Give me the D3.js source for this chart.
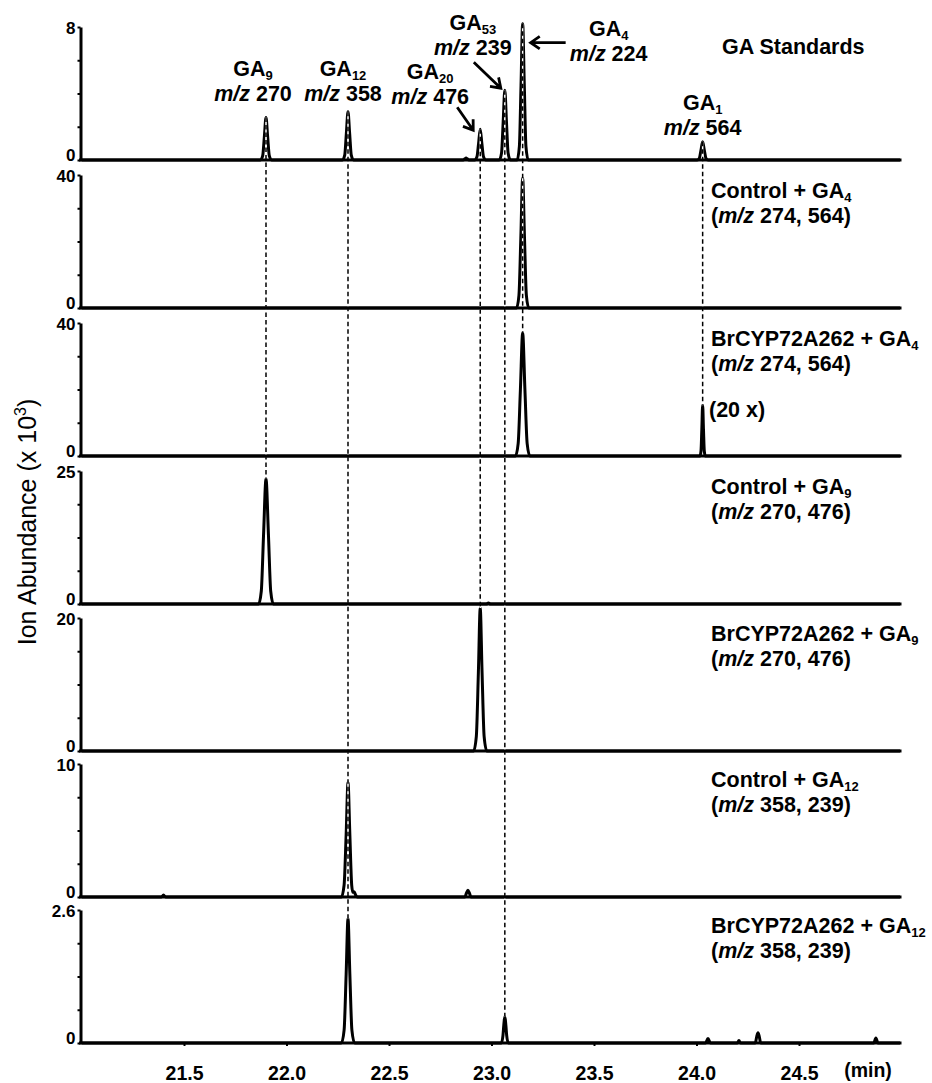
<!DOCTYPE html>
<html>
<head>
<meta charset="utf-8">
<script src="https://cdn.jsdelivr.net/npm/d3@7"></script>
<style>
  html, body { margin: 0; padding: 0; background: #fff; }
  svg { display: block; font-family: Arial, "Liberation Sans", Helvetica, sans-serif; }
</style>
</head>
<body>
<svg id="chart" width="932" height="1083"></svg>
<script>
// ---------------------------------------------------------------
// Data
// ---------------------------------------------------------------

// retention-time tick labels (min)
const timeTicks = [21.5, 22.0, 22.5, 23.0, 23.5, 24.0, 24.5];

// chromatograms: [retention time (min), ion abundance (x 10^3)]
const gaStandards = [
  [21.0, 0],
  [21.873, 0], [21.884, 0.26], [21.892, 1.4], [21.900, 2.55], [21.908, 1.4], [21.916, 0.26], [21.927, 0],
  [22.273, 0], [22.284, 0.29], [22.292, 1.6], [22.300, 2.9], [22.308, 1.6], [22.316, 0.29], [22.327, 0],
  [22.862, 0], [22.870, 0.07], [22.876, 0.12], [22.882, 0.07], [22.890, 0],
  [22.918, 0], [22.929, 0.19], [22.937, 1.0], [22.945, 1.85], [22.953, 1.0], [22.961, 0.19], [22.972, 0],
  [23.038, 0], [23.049, 0.42], [23.057, 2.3], [23.065, 4.2], [23.073, 2.3], [23.081, 0.42], [23.092, 0],
  [23.125, 0], [23.136, 0.82], [23.144, 4.5], [23.152, 8.2], [23.160, 4.5], [23.168, 0.82], [23.179, 0],
  [24.003, 0], [24.014, 0.11], [24.022, 0.6], [24.030, 1.1], [24.038, 0.6], [24.046, 0.11], [24.057, 0],
  [25.0, 0]
];

const controlGA4 = [
  [21.0, 0],
  [23.122, 0], [23.134, 3.9], [23.143, 21], [23.152, 39], [23.161, 21], [23.170, 3.9], [23.182, 0],
  [25.0, 0]
];

const brcypGA4 = [
  [21.0, 0],
  [23.117, 0], [23.130, 3.7], [23.141, 20], [23.152, 37], [23.163, 20], [23.174, 3.7], [23.187, 0],
  [24.017, 0], [24.022, 1.5], [24.026, 8], [24.030, 15.3], [24.034, 8], [24.038, 1.5], [24.043, 0],
  [25.0, 0]
];

const controlGA9 = [
  [21.0, 0],
  [21.864, 0], [21.877, 2.4], [21.888, 12.9], [21.900, 23.5], [21.912, 12.9], [21.923, 2.4], [21.936, 0],
  [22.975, 0], [22.985, 0.2], [22.995, 0],
  [25.0, 0]
];

const brcypGA9 = [
  [21.0, 0],
  [22.913, 0], [22.926, 2.2], [22.936, 11.8], [22.945, 21.5], [22.954, 11.8], [22.964, 2.2], [22.977, 0],
  [25.0, 0]
];

const controlGA12 = [
  [21.0, 0],
  [21.390, 0], [21.400, 0.15], [21.410, 0],
  [22.268, 0], [22.281, 0.9], [22.291, 4.7], [22.300, 8.6], [22.309, 4.7], [22.318, 0.9],
  [22.324, 0.35], [22.330, 0.4], [22.337, 0.15], [22.345, 0],
  [22.870, 0], [22.878, 0.3], [22.885, 0.5], [22.892, 0.3], [22.900, 0],
  [25.0, 0]
];

const brcypGA12 = [
  [21.0, 0],
  [22.268, 0], [22.281, 0.25], [22.291, 1.35], [22.300, 2.43], [22.309, 1.35], [22.319, 0.25], [22.332, 0],
  [23.048, 0], [23.056, 0.15], [23.060, 0.35], [23.065, 0.52], [23.070, 0.35], [23.074, 0.15], [23.082, 0],
  [24.044, 0], [24.056, 0.09], [24.068, 0],
  [24.199, 0], [24.207, 0.05], [24.215, 0],
  [24.287, 0], [24.294, 0.13], [24.300, 0.2], [24.306, 0.13], [24.313, 0],
  [24.865, 0], [24.875, 0.1], [24.885, 0],
  [25.0, 0]
];

// panels, top to bottom
const panelSeries = [gaStandards, controlGA4, brcypGA4, controlGA9, brcypGA9, controlGA12, brcypGA12];
const panelMax = [8, 40, 40, 25, 20, 10, 2.6];
const panelMaxLabels = ["8", "40", "40", "25", "20", "10", "2.6"];
const panelTitles = ["GA Standards", "Control + GA", "BrCYP72A262 + GA", "Control + GA",
                     "BrCYP72A262 + GA", "Control + GA", "BrCYP72A262 + GA"];
const panelTitleSubs = ["", "4", "4", "9", "9", "12", "12"];
const panelIons = ["", "274, 564", "274, 564", "270, 476", "270, 476", "358, 239", "358, 239"];

// GA standards and the panel each dashed guide reaches down to
const stdSubs = ["9", "12", "20", "53", "4", "1"];
const stdIons = ["270", "358", "476", "239", "224", "564"];
const stdTimes = [21.900, 22.300, 22.945, 23.065, 23.152, 24.030];
const stdGuideEnd = [3, 6, 4, 6, 2, 2];

// ---------------------------------------------------------------
// Layout
// ---------------------------------------------------------------
const panelBase = [160, 308, 456, 604, 751, 897, 1043];
const panelH = 133;
const axisX = 80.5;
const lineEnd = 900;
const fontMain = 21.5;
const fontTick = 19.5;

// peak label placement relative to the peak: centre offset and two baselines
const stdLabelPos = [
  { dx: -13, y1: 76,  y2: 101 },
  { dx: -5,  y1: 76,  y2: 101 },
  { dx: -50, y1: 79,  y2: 104 },
  { dx: -32, y1: 30,  y2: 55 },
  { dx: 86,  y1: 36,  y2: 61 },
  { dx: 0,   y1: 110, y2: 135 }
];
// annotation arrows: tip offset from the apex, tail offset from the tip
const stdArrows = [
  { i: 2, tip: [-7, 1],  tail: [-16, -23] },
  { i: 3, tip: [-4, -2], tail: [-27, -26] },
  { i: 4, tip: [8, 19],  tail: [35, 0] }
];

const svg = d3.select("#chart");
svg.append("rect").attr("width", 932).attr("height", 1083).attr("fill", "#fff");

const x = d3.scaleLinear().domain([21, 25]).range([81.5, 901.5]);
const yScales = panelMax.map((m, i) =>
  d3.scaleLinear().domain([0, m]).range([panelBase[i], panelBase[i] - panelH]));

const line = d3.line().x(d => x(d[0])).curve(d3.curveMonotoneX);

function apexNear(series, t) {
  return d3.max(series.filter(d => Math.abs(d[0] - t) < 0.006), d => d[1]);
}

// rich text helper: parts = [{t, sub, sup, italic}]
function richText(parent, px, py, parts, opts = {}) {
  const fs = opts.size || fontMain;
  const txt = parent.append("text")
    .attr("x", px).attr("y", py)
    .attr("font-size", fs)
    .attr("font-weight", opts.weight || "bold")
    .attr("text-anchor", opts.anchor || "start")
    .attr("fill", "#000");
  let shift = 0;
  parts.forEach(p => {
    const ts = txt.append("tspan").text(p.t);
    let target = 0;
    if (p.sub) { target = 4; ts.attr("font-size", Math.round(fs * 0.6)); }
    if (p.sup) { target = -Math.round(fs * 0.38); ts.attr("font-size", Math.round(fs * 0.62)); }
    if (p.italic) ts.attr("font-style", "italic");
    if (target !== shift) { ts.attr("dy", target - shift); shift = target; }
  });
  return txt;
}

// ---------------------------------------------------------------
// Traces
// ---------------------------------------------------------------
const traces = svg.append("g");
panelSeries.forEach((series, i) => {
  traces.append("path")
    .datum(series)
    .attr("d", line.y(d => yScales[i](d[1])))
    .attr("fill", "none")
    .attr("stroke", "#000")
    .attr("stroke-width", 3)
    .attr("stroke-linejoin", "round");
});

// ---------------------------------------------------------------
// Dashed guides from each standard down to matching peaks
// ---------------------------------------------------------------
const guides = svg.append("g");
stdTimes.forEach((t, j) => {
  const gx = x(t);
  const y0 = yScales[0](apexNear(gaStandards, t));
  const endPanel = stdGuideEnd[j];
  const y1 = yScales[endPanel](apexNear(panelSeries[endPanel], t));
  guides.append("line")
    .attr("x1", gx).attr("x2", gx).attr("y1", y0).attr("y2", y1)
    .attr("stroke", "#fff").attr("stroke-width", 1.5);
  guides.append("line")
    .attr("x1", gx).attr("x2", gx).attr("y1", y0).attr("y2", y1)
    .attr("stroke", "#000").attr("stroke-width", 1.5)
    .attr("stroke-dasharray", "4.5,3");
});

// ---------------------------------------------------------------
// Axes
// ---------------------------------------------------------------
panelMax.forEach((m, i) => {
  // baseline
  svg.append("line")
    .attr("x1", axisX - 1.5).attr("x2", lineEnd)
    .attr("y1", panelBase[i]).attr("y2", panelBase[i])
    .attr("stroke", "#000").attr("stroke-width", 3);

  const ax = svg.append("g")
    .attr("transform", `translate(${axisX},0)`)
    .call(d3.axisLeft(yScales[i])
      .tickValues(d3.range(5).map(k => m * k / 4))
      .tickSize(3)
      .tickSizeOuter(0)
      .tickPadding(2)
      .tickFormat((d, k) => k === 0 ? "0" : (k === 4 ? panelMaxLabels[i] : "")));
  ax.select(".domain").attr("stroke-width", 3);
  ax.selectAll(".tick line").attr("stroke-width", 2);
  ax.selectAll(".tick text")
    .attr("font-size", 17).attr("font-weight", "bold")
    .attr("font-family", null).attr("fill", "#000")
    // the zero label sits on the baseline, the top label is centred on its tick
    .attr("dy", (d, k) => k === 0 ? "0em" : "0.36em");
});

const xAxis = svg.append("g")
  .attr("transform", `translate(0,${panelBase[6]})`)
  .call(d3.axisBottom(x)
    .tickValues(timeTicks)
    .tickSize(3)
    .tickSizeOuter(0)
    .tickPadding(20)
    .tickFormat(d3.format(".1f")));
xAxis.select(".domain").remove();
xAxis.selectAll(".tick line").attr("stroke-width", 2);
xAxis.selectAll(".tick text")
  .attr("font-size", fontTick).attr("font-weight", "bold")
  .attr("font-family", null).attr("fill", "#000");

svg.append("text")
  .attr("x", 868).attr("y", 1077)
  .attr("text-anchor", "middle")
  .attr("font-size", fontTick).attr("font-weight", "bold")
  .text("(min)");

// y title
const yTitle = richText(svg, 0, 0,
  [{ t: "Ion Abundance (x 10" }, { t: "3", sup: true }, { t: ")" }],
  { size: 25, weight: "normal", anchor: "middle" });
yTitle.attr("transform", "translate(36,522) rotate(-90)");

// ---------------------------------------------------------------
// Panel labels
// ---------------------------------------------------------------
richText(svg, 722, 54, [{ t: panelTitles[0] }]);
for (let i = 1; i < panelMax.length; i++) {
  const top = panelBase[i] - panelH;
  richText(svg, 711, top + 23, [{ t: panelTitles[i] }, { t: panelTitleSubs[i], sub: true }]);
  richText(svg, 711, top + 48, [{ t: "(" }, { t: "m/z", italic: true }, { t: " " + panelIons[i] + ")" }]);
}
richText(svg, 709, panelBase[2] - 39, [{ t: "(20 x)" }]);

// ---------------------------------------------------------------
// Standard peak labels and arrows
// ---------------------------------------------------------------
stdTimes.forEach((t, j) => {
  const cx = x(t) + stdLabelPos[j].dx;
  richText(svg, cx, stdLabelPos[j].y1, [{ t: "GA" }, { t: stdSubs[j], sub: true }], { anchor: "middle" });
  richText(svg, cx, stdLabelPos[j].y2, [{ t: "m/z", italic: true }, { t: " " + stdIons[j] }], { anchor: "middle" });
});

function arrow(x1, y1, x2, y2) {
  const a = Math.atan2(y2 - y1, x2 - x1);
  const len = 11, spread = 0.6;
  const p = d3.path();
  p.moveTo(x1, y1); p.lineTo(x2, y2);
  p.moveTo(x2 - len * Math.cos(a - spread), y2 - len * Math.sin(a - spread));
  p.lineTo(x2, y2);
  p.lineTo(x2 - len * Math.cos(a + spread), y2 - len * Math.sin(a + spread));
  svg.append("path").attr("d", p.toString())
    .attr("fill", "none").attr("stroke", "#000")
    .attr("stroke-width", 2.8).attr("stroke-linejoin", "miter");
}
stdArrows.forEach(a => {
  const t = stdTimes[a.i];
  const ax = x(t), ay = yScales[0](apexNear(gaStandards, t));
  const tipX = ax + a.tip[0], tipY = ay + a.tip[1];
  arrow(tipX + a.tail[0], tipY + a.tail[1], tipX, tipY);
});
</script>
</body>
</html>
